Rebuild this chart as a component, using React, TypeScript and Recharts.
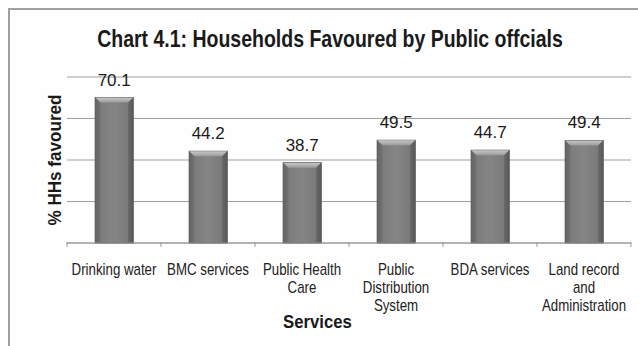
import React from "react";
import { BarChart, Bar, XAxis, YAxis, CartesianGrid, LabelList } from "recharts";

const categories: string[][] = [
  ["Drinking water"],
  ["BMC services"],
  ["Public Health", "Care"],
  ["Public", "Distribution", "System"],
  ["BDA services"],
  ["Land record", "and", "Administration"],
];
const values: number[] = [70.1, 44.2, 38.7, 49.5, 44.7, 49.4];
const yTicks: number[] = [0, 20, 40, 60, 80];

const data = categories.map((lines, i) => ({
  name: lines.join(" "),
  lines,
  value: values[i],
}));

const SANS = "'Liberation Sans', Arial, sans-serif";

const BarShape = (props: any) => {
  const { x, y, width, height } = props;
  if (!height || height <= 0) return null;
  const b = 5;
  return (
    <g>
      <rect x={x} y={y} width={width} height={height} fill="url(#barGrad)" stroke="#505050" strokeWidth={1} />
      <polygon
        points={`${x},${y} ${x + width},${y} ${x + width - b},${y + b} ${x + b},${y + b}`}
        fill="url(#bevelGrad)"
      />
      <polygon
        points={`${x},${y} ${x + b},${y + b} ${x + b},${y + height} ${x},${y + height}`}
        fill="#6a6a6a"
        opacity={0.5}
      />
      <polygon
        points={`${x + width},${y} ${x + width - b},${y + b} ${x + width - b},${y + height} ${x + width},${y + height}`}
        fill="#5a5a5a"
        opacity={0.5}
      />
    </g>
  );
};

const CatTick = (props: any) => {
  const { x, y, payload, index, width, visibleTicksCount } = props;
  const lines: string[] = data[index]?.lines ?? [String(payload.value)];
  const count = visibleTicksCount || data.length;
  const half = (Number(width) || 0) / count / 2;
  const axisY = y - 9;
  return (
    <g>
      {half > 0 && (
        <line x1={x - half} y1={axisY} x2={x - half} y2={axisY + 5} stroke="#999" strokeWidth={1} />
      )}
      {half > 0 && index === count - 1 && (
        <line x1={x + half} y1={axisY} x2={x + half} y2={axisY + 5} stroke="#999" strokeWidth={1} />
      )}
      <g transform={`translate(${x},${y}) scale(0.83,1)`}>
        <text x={0} y={0} textAnchor="middle" fontFamily={SANS} fontSize={16} fill="#222">
          {lines.map((l, i) => (
            <tspan key={i} x={0} dy={i === 0 ? 24 : 18}>
              {l}
            </tspan>
          ))}
        </text>
      </g>
    </g>
  );
};

export default function App() {
  return (
    <div style={{ position: "absolute", left: 0, top: 0, width: 638, height: 346, overflow: "hidden", background: "#fff" }}>
      <div
        style={{
          position: "absolute",
          left: 8,
          top: 8,
          width: 700,
          height: 400,
          borderLeft: "2px solid #a0a0a0",
          borderTop: "2px solid #a0a0a0",
          background: "#fefefe",
        }}
      />
      <div style={{ position: "absolute", left: 0, top: 0 }}>
        <BarChart
          width={638}
          height={346}
          data={data}
          margin={{ top: 77, right: 7, bottom: 73, left: 67 }}
          barCategoryGap="30%"
        >
          <defs>
            <linearGradient id="barGrad" x1="0" y1="0" x2="1" y2="0">
              <stop offset="0%" stopColor="#5e5e5e" />
              <stop offset="15%" stopColor="#7c7c7c" />
              <stop offset="50%" stopColor="#858585" />
              <stop offset="85%" stopColor="#7a7a7a" />
              <stop offset="100%" stopColor="#5a5a5a" />
            </linearGradient>
            <linearGradient id="bevelGrad" x1="0" y1="0" x2="0" y2="1">
              <stop offset="0%" stopColor="#c8c8c8" />
              <stop offset="100%" stopColor="#9a9a9a" />
            </linearGradient>
          </defs>
          <g transform="translate(330,47) scale(0.83,1)">
            <text x={0} y={0} textAnchor="middle" fontFamily={SANS} fontWeight="bold" fontSize={23.5} fill="#1a1a1a">
              Chart 4.1: Households Favoured by Public offcials
            </text>
          </g>
          <g transform="translate(61,160) rotate(-90) scale(0.9,1)">
            <text x={0} y={0} textAnchor="middle" fontFamily={SANS} fontWeight="bold" fontSize={19} fill="#1a1a1a">
              % HHs favoured
            </text>
          </g>
          <g transform="translate(317.5,328) scale(0.93,1)">
            <text x={0} y={0} textAnchor="middle" fontFamily={SANS} fontWeight="bold" fontSize={18} fill="#1a1a1a">
              Services
            </text>
          </g>
          <CartesianGrid vertical={false} stroke="#a0a0a0" strokeWidth={1} />
          <YAxis hide domain={[0, 80]} ticks={yTicks} width={0} />
          <XAxis
            dataKey="name"
            height={30}
            axisLine={{ stroke: "#999" }}
            tickLine={false}
            tick={<CatTick />}
            interval={0}
          />
          <Bar dataKey="value" shape={<BarShape />} isAnimationActive={false}>
            <LabelList dataKey="value" position="top" offset={12} fontFamily={SANS} fontSize={17} fill="#1a1a1a" />
          </Bar>
        </BarChart>
      </div>
    </div>
  );
}
